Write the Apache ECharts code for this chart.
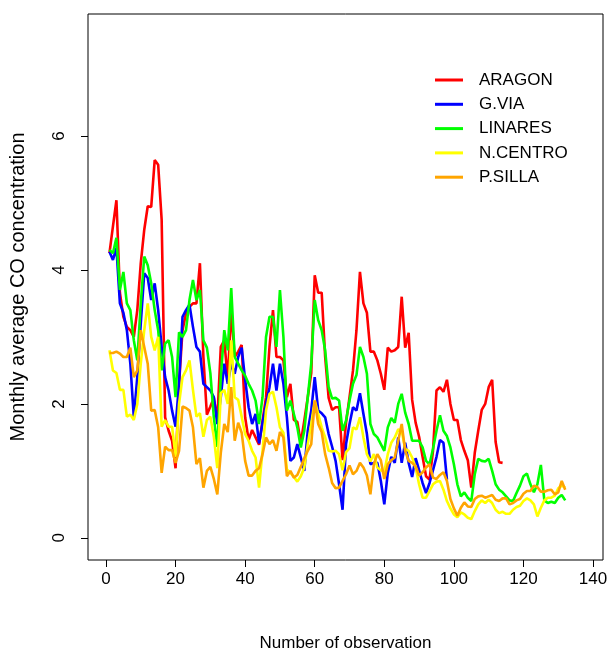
<!DOCTYPE html>
<html>
<head>
<meta charset="utf-8">
<script src="https://cdn.jsdelivr.net/npm/echarts@6/dist/echarts.min.js"></script>
<style>
  html, body { margin: 0; padding: 0; background: #fff; }
  #chart { width: 613px; height: 652px; }
</style>
</head>
<body>
<div id="chart"></div>
<script>
// monthly average CO per station, observation 1..n
var aragon = [4.25, 4.65, 5.04, 3.66, 3.3, 3.15, 3.1, 3.0, 3.4, 4.1,
  4.6, 4.95, 4.94, 5.64, 5.57, 4.75, 1.8, 1.6, 1.45, 1.04,
  2.3, 3.1, 3.35, 3.45, 3.5, 3.5, 4.1, 2.7, 1.84, 1.96,
  2.09, 1.76, 2.85, 2.95, 2.36, 3.4, 2.7, 2.78, 2.88, 1.8,
  1.46, 1.61, 1.5, 1.39, 1.75, 2.1, 2.85, 3.4, 2.7, 2.7,
  2.65, 2.1, 2.3, 1.76, 1.73, 1.42, 1.75, 2.1, 2.46, 3.92,
  3.66, 3.66, 2.7, 2.09, 1.91, 1.95, 1.95, 1.16, 1.72, 2.1,
  2.5, 3.1, 3.97, 3.5, 3.36, 2.78, 2.78, 2.65, 2.45, 2.21,
  2.84, 2.78, 2.8, 2.85, 3.6, 2.84, 3.06, 2.06, 1.72, 1.51,
  1.21, 0.92, 0.87, 1.3, 2.2, 2.25, 2.18, 2.36, 2.0, 1.76,
  1.76, 1.46, 1.3, 1.16, 0.75, 1.27, 1.6, 1.91, 2.0, 2.25,
  2.36, 1.43, 1.13, 1.12];
var gvia = [4.27, 4.15, 4.33, 3.5, 3.36, 3.1, 2.6, 1.8, 2.4, 3.2,
  3.95, 3.88, 3.55, 3.8, 3.4, 2.85, 2.4, 2.2, 1.9, 1.66,
  2.3, 3.3, 3.4, 3.48, 3.15, 2.85, 2.78, 2.3, 2.25, 2.2,
  2.1, 1.7, 2.1, 2.6, 2.3, 2.6, 2.45, 2.7, 2.84, 2.36,
  1.95, 1.7, 1.85, 1.41, 1.72, 2.0, 2.25, 2.6, 2.2, 2.6,
  2.3, 1.8, 1.15, 1.2, 1.4, 1.2, 1.0, 1.6, 1.9, 2.4,
  1.9, 1.86, 1.8, 1.55, 1.36, 1.15, 0.8, 0.42, 1.4, 1.7,
  1.95, 1.9, 2.16, 1.85, 1.55, 1.1, 1.12, 1.12, 0.85, 0.5,
  0.97, 1.21, 1.12, 1.5, 1.12, 1.42, 1.12, 0.91, 1.19, 1.01,
  0.82, 0.67, 0.82, 1.01, 1.21, 1.46, 1.42, 0.87];
var linares = [4.3, 4.25, 4.48, 3.7, 3.97, 3.5, 3.4, 2.95, 2.65, 3.5,
  4.2, 4.07, 3.8, 3.4, 3.1, 2.5, 2.9, 2.95, 2.7, 2.1,
  3.07, 3.0, 3.1, 3.55, 3.85, 3.55, 3.7, 2.95, 2.84, 2.46,
  1.8, 1.36, 2.4, 3.1, 2.8, 3.73, 2.7, 2.6, 2.5, 2.42,
  2.3, 2.2, 2.05, 1.7, 2.1, 3.0, 3.3, 3.3, 2.85, 3.7,
  3.0, 1.9, 2.05, 1.85, 1.65, 1.35, 1.6, 2.1, 2.6, 3.55,
  3.25, 3.1, 2.8, 2.25, 2.08, 2.09, 2.05, 1.6, 1.75, 2.05,
  2.3, 2.43, 2.85, 2.7, 2.45, 1.7, 1.55, 1.5, 1.4, 1.3,
  1.65, 1.79, 1.72, 2.0, 2.15, 1.87, 1.7, 1.45, 1.45, 1.45,
  1.35, 1.15, 1.1, 1.33, 1.6, 1.83, 1.6, 1.52, 1.35, 1.1,
  0.8, 0.62, 0.68, 0.6, 0.55, 0.95, 1.18, 1.15, 1.14, 1.18,
  1.0, 0.8, 0.72, 0.68, 0.62, 0.56, 0.55, 0.67, 0.78, 0.92,
  0.96, 0.8, 0.68, 0.8, 1.09, 0.56, 0.52, 0.54, 0.52, 0.6,
  0.64, 0.56];
var ncentro = [2.8, 2.5, 2.46, 2.21, 2.21, 1.81, 1.84, 1.76, 2.0, 2.6,
  3.1, 3.5, 3.0, 2.8, 3.0, 1.66, 1.76, 1.66, 1.66, 1.21,
  2.0, 2.4, 2.5, 2.65, 2.21, 1.81, 1.86, 1.51, 1.76, 1.81,
  1.51, 1.04, 2.16, 2.21, 2.0, 2.95, 2.1, 2.06, 1.81, 1.55,
  1.45, 1.3, 1.2, 0.75, 1.3, 1.9, 2.15, 2.18, 1.95, 1.65,
  1.57, 1.02, 0.97, 0.91, 0.84, 0.92, 1.05, 1.4, 1.7, 2.05,
  1.85, 1.65, 1.5, 1.3, 1.29, 1.3, 1.25, 1.01, 1.28, 1.34,
  1.65, 1.62, 1.8, 1.5, 1.25, 1.14, 1.25, 1.05, 1.01, 0.99,
  1.25, 1.42, 1.5, 1.62, 1.6, 1.33, 1.3, 1.2, 1.05, 0.8,
  0.6, 0.6, 0.7, 0.8, 0.84, 0.85, 0.72, 0.55, 0.44, 0.35,
  0.31, 0.38, 0.35, 0.3, 0.28, 0.4, 0.5, 0.56, 0.52, 0.57,
  0.52, 0.42, 0.37, 0.39, 0.36, 0.36, 0.42, 0.46, 0.48, 0.55,
  0.59, 0.56, 0.5, 0.32, 0.45, 0.56, 0.6, 0.6, 0.63, 0.74,
  0.78, 0.75];
var psilla = [2.76, 2.76, 2.78, 2.75, 2.7, 2.7, 2.84, 2.4, 2.5, 3.1,
  2.85, 2.6, 1.9, 1.91, 1.65, 0.97, 1.36, 1.31, 1.31, 1.12,
  1.3, 1.96, 1.94, 1.9, 1.65, 1.1, 1.19, 0.75, 1.0, 1.06,
  0.88, 0.65, 1.27, 1.7, 1.58, 2.25, 1.45, 1.72, 1.57, 1.15,
  0.93, 0.93, 1.0, 1.04, 1.25, 1.5, 1.4, 1.46, 1.3, 1.58,
  1.5, 0.92, 1.0, 0.9, 0.94, 1.06, 1.19, 1.3, 1.4, 2.05,
  1.7, 1.58, 1.25, 1.05, 0.82, 0.74, 0.75, 0.85, 0.95, 1.08,
  0.95, 1.0, 1.12, 1.05, 0.93, 0.65, 1.1, 1.25, 1.16, 0.88,
  1.1, 1.16, 1.2, 1.45, 1.7, 1.3, 1.15, 1.12, 1.07, 0.93,
  0.98, 1.05, 1.1, 0.9, 0.88, 0.94, 0.98, 0.85, 0.58, 0.44,
  0.33, 0.45, 0.53, 0.47, 0.46, 0.58, 0.62, 0.63, 0.6, 0.62,
  0.64, 0.57, 0.55, 0.59, 0.59, 0.5, 0.52, 0.56, 0.58, 0.66,
  0.7, 0.7, 0.78, 0.76, 0.69, 0.69, 0.71, 0.72, 0.65, 0.68,
  0.85, 0.72];

var stations = ['ARAGON', 'G.VIA', 'LINARES', 'N.CENTRO', 'P.SILLA'];
var colors = ['#ff0000', '#0000ff', '#00ff00', '#ffff00', '#ffa500'];
var xTicks = [0, 20, 40, 60, 80, 100, 120, 140];
var yTicks = [0, 2, 4, 6];

var font = "'Liberation Sans', Arial, sans-serif";

function toPoints(arr) {
  return arr.map(function (v, i) { return [i + 1, v]; });
}

var chart = echarts.init(document.getElementById('chart'));
var option = {
  animation: false,
  backgroundColor: '#fff',
  grid: {
    left: 88, top: 14, width: 515, height: 546,
    outerBoundsMode: 'none',
    show: true, borderColor: '#000', borderWidth: 1
  },
  xAxis: {
    type: 'value',
    min: -5.17, max: 142.86,
    axisLine: { show: false, onZero: false },
    splitLine: { show: false },
    axisTick: { show: true, inside: false, length: 7, customValues: xTicks, lineStyle: { color: '#000' } },
    axisLabel: { customValues: xTicks, margin: 11, color: '#000', fontSize: 17, fontFamily: font },
    name: 'Number of observation',
    nameLocation: 'middle',
    nameGap: 75,
    nameTextStyle: { color: '#000', fontSize: 17, fontFamily: font }
  },
  yAxis: {
    type: 'value',
    min: -0.33, max: 7.82,
    axisLine: { show: false, onZero: false },
    splitLine: { show: false },
    axisTick: { show: true, inside: false, length: 7, customValues: yTicks, lineStyle: { color: '#000' } },
    axisLabel: { customValues: yTicks, rotate: 90, margin: 20, color: '#000', fontSize: 17, fontFamily: font },
    name: 'Monthly average CO concentration',
    nameLocation: 'middle',
    nameGap: 60,
    nameTextStyle: { color: '#000', fontSize: 20, fontFamily: font }
  },
  legend: {
    data: stations,
    orient: 'vertical',
    left: 430, top: 65,
    icon: 'rect',
    itemWidth: 28, itemHeight: 3,
    itemGap: 4.3,
    textStyle: { color: '#000', fontSize: 17, lineHeight: 20, fontFamily: font, padding: [0, 0, 0, 11] }
  },
  series: [aragon, gvia, linares, ncentro, psilla].map(function (arr, k) {
    return {
      name: stations[k],
      type: 'line',
      data: toPoints(arr),
      showSymbol: false,
      color: colors[k],
      lineStyle: { width: 2.6, color: colors[k] }
    };
  })
};
chart.setOption(option);
</script>
</body>
</html>
